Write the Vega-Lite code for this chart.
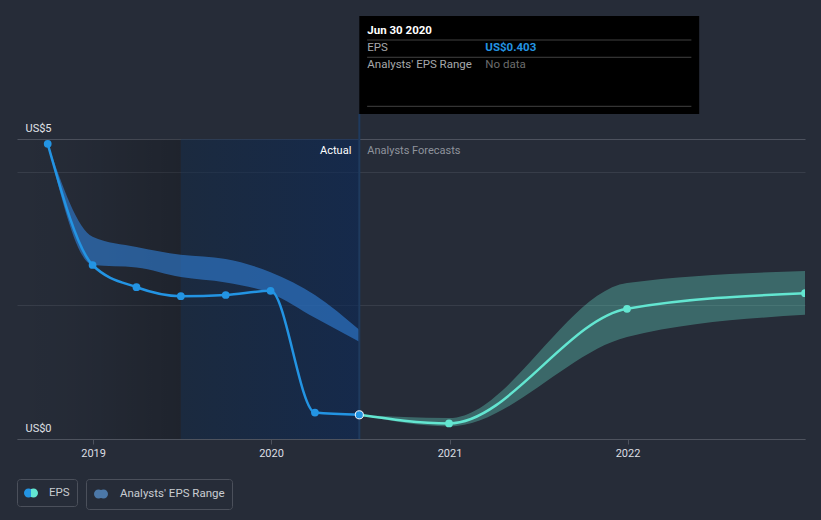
{
  "$schema": "https://vega.github.io/schema/vega-lite/v6.json",
  "width": 788,
  "height": 423,
  "autosize": {"type": "none"},
  "padding": {"left": 17, "top": 16, "right": 16, "bottom": 81},
  "background": "#262c38",
  "config": {"view": {"stroke": null}, "font": "Roboto"},
  "datasets": {
    "eps": [
      {"date": "2018-09-30", "eps": 4.92, "part": "actual"},
      {"date": "2018-12-31", "eps": 2.90, "part": "actual"},
      {"date": "2019-03-31", "eps": 2.53, "part": "actual"},
      {"date": "2019-06-30", "eps": 2.38, "part": "actual"},
      {"date": "2019-09-30", "eps": 2.40, "part": "actual"},
      {"date": "2019-12-31", "eps": 2.47, "part": "actual"},
      {"date": "2020-03-31", "eps": 0.44, "part": "actual"},
      {"date": "2020-06-30", "eps": 0.403, "part": "actual"},
      {"date": "2020-06-30", "eps": 0.403, "part": "forecast"},
      {"date": "2020-12-31", "eps": 0.26, "part": "forecast"},
      {"date": "2021-12-31", "eps": 2.17, "part": "forecast"},
      {"date": "2022-12-31", "eps": 2.43, "part": "forecast"}
    ],
    "range": [
      {"date": "2018-09-30", "low": 4.92, "high": 4.92, "part": "hist"},
      {"date": "2018-12-31", "low": 2.90, "high": 3.37, "part": "hist"},
      {"date": "2019-03-31", "low": 2.86, "high": 3.20, "part": "hist"},
      {"date": "2019-06-30", "low": 2.70, "high": 3.07, "part": "hist"},
      {"date": "2019-09-30", "low": 2.61, "high": 3.00, "part": "hist"},
      {"date": "2019-12-31", "low": 2.43, "high": 2.78, "part": "hist"},
      {"date": "2020-03-31", "low": 2.02, "high": 2.40, "part": "hist"},
      {"date": "2020-06-30", "low": 1.62, "high": 1.82, "part": "hist"},
      {"date": "2020-06-30", "low": 0.403, "high": 0.403, "part": "fc"},
      {"date": "2020-12-31", "low": 0.21, "high": 0.35, "part": "fc"},
      {"date": "2021-12-31", "low": 1.70, "high": 2.60, "part": "fc"},
      {"date": "2022-12-31", "low": 2.07, "high": 2.80, "part": "fc"}
    ]
  },
  "layer": [
    {
      "data": {"values": [{}]},
      "mark": {"type": "rect", "fill": {"gradient": "linear", "x1": 0, "y1": 0, "x2": 1, "y2": 0, "stops": [{"offset": 0, "color": "rgba(0,0,0,0)"}, {"offset": 0.35, "color": "rgba(0,0,0,0.04)"}, {"offset": 1, "color": "rgba(0,0,0,0.2)"}]}},
      "encoding": {
        "x": {"datum": {"year": 2018, "month": 7, "date": 29}, "type": "temporal", "title": null},
        "x2": {"datum": {"year": 2019, "month": 6, "date": 30}},
        "y": {"datum": 5, "type": "quantitative", "title": null},
        "y2": {"datum": 0}
      }
    },
    {
      "data": {"values": [{}]},
      "mark": {"type": "rect", "fill": {"gradient": "linear", "x1": 0, "y1": 0, "x2": 1, "y2": 0, "stops": [{"offset": 0, "color": "rgba(16,40,70,0.5)"}, {"offset": 1, "color": "rgba(10,40,88,0.6)"}]}},
      "encoding": {
        "x": {"datum": {"year": 2019, "month": 6, "date": 30}, "type": "temporal", "title": null},
        "x2": {"datum": {"year": 2020, "month": 6, "date": 30}},
        "y": {"datum": 5, "type": "quantitative", "title": null},
        "y2": {"datum": 0}
      }
    },
    {
      "data": {"name": "range"},
      "transform": [{"filter": "datum.part === 'hist'"}],
      "mark": {"type": "area", "interpolate": "monotone", "fill": "#3080d8", "fillOpacity": 0.6},
      "encoding": {
        "x": {
          "field": "date", "type": "temporal", "title": null,
          "scale": {"domain": [{"year": 2018, "month": 7, "date": 29}, {"year": 2022, "month": 12, "date": 31}]},
          "axis": {
            "orient": "bottom", "format": "%Y", "tickCount": {"interval": "year", "step": 1},
            "grid": false, "domainColor": "#4e535e", "tickColor": "#4e535e", "tickSize": 5,
            "labelColor": "#dcdfe3", "labelFontSize": 11, "labelPadding": 3, "labelFlush": false, "title": null
          }
        },
        "y": {
          "field": "high", "type": "quantitative", "title": null,
          "scale": {"domain": [0, 7.05], "nice": false, "zero": false},
          "axis": {
            "orient": "left", "values": [0, 2.23, 4.45, 5], "grid": true,
            "gridColor": {"condition": {"test": "datum.value === 5", "value": "#4d525e"}, "value": "#373d49"},
            "domain": false, "ticks": false, "tickSize": 0,
            "labelExpr": "datum.value === 5 ? 'US$5' : (datum.value === 0 ? 'US$0' : '')",
            "labelAlign": "left", "labelBaseline": "alphabetic", "labelPadding": -8, "labelOffset": -8,
            "labelColor": "#e0e3e8", "labelFontSize": 11, "labelFlush": false, "labelOverlap": false, "title": null
          }
        },
        "y2": {"field": "low"}
      }
    },
    {
      "data": {"name": "range"},
      "transform": [{"filter": "datum.part === 'fc'"}],
      "mark": {"type": "area", "interpolate": "monotone", "fill": "#6ae8d0", "fillOpacity": 0.32, "clip": true},
      "encoding": {
        "x": {"field": "date", "type": "temporal", "title": null},
        "y": {"field": "high", "type": "quantitative", "title": null},
        "y2": {"field": "low"}
      }
    },
    {
      "data": {"values": []},
      "mark": {"type": "point", "filled": true},
      "encoding": {
        "x": {"datum": {"year": 2020, "month": 6, "date": 30}, "type": "temporal", "title": null},
        "y": {"datum": 0, "type": "quantitative", "title": null},
        "shape": {
          "datum": "Analysts' EPS Range", "type": "nominal",
          "scale": {"domain": ["Analysts' EPS Range"], "range": ["M -1 0 A 0.643 0.643 0 1 0 0.286 0 A 0.643 0.643 0 1 0 -1 0 Z M -0.286 0 A 0.643 0.643 0 1 0 1 0 A 0.643 0.643 0 1 0 -0.286 0 Z"]},
          "legend": {
            "orient": "none", "legendX": 69, "legendY": 463, "title": null, "padding": 7,
            "strokeColor": "#4b505b", "cornerRadius": 3, "labelColor": "#c9ccd2", "labelFontSize": 11.5,
            "labelFont": "Roboto", "labelOffset": 11, "symbolSize": 196, "symbolOpacity": 1,
            "encode": {"symbols": {"update": {
              "fill": {"value": {"gradient": "linear", "x1": 0, "y1": 0, "x2": 1, "y2": 0, "stops": [{"offset": 0, "color": "#2c5e8f"}, {"offset": 0.5, "color": "#2c5e8f"}, {"offset": 0.5, "color": "#3e7b79"}, {"offset": 1, "color": "#3e7b79"}]}},
              "stroke": {"value": "transparent"},
              "strokeWidth": {"value": 0},
              "size": {"value": 196},
              "opacity": {"value": 1},
              "fillOpacity": {"value": 1}
            }}}
          }
        }
      }
    },
    {
      "data": {"values": [{}]},
      "mark": {"type": "rule", "stroke": "#1f3a5e", "strokeWidth": 2},
      "encoding": {
        "x": {"datum": {"year": 2020, "month": 6, "date": 30}, "type": "temporal", "title": null},
        "y": {"datum": 5.417, "type": "quantitative", "title": null},
        "y2": {"datum": 0}
      }
    },
    {
      "data": {"name": "eps"},
      "transform": [{"filter": "datum.part === 'actual'"}],
      "mark": {"type": "line", "interpolate": "monotone", "strokeWidth": 2.5},
      "encoding": {
        "x": {"field": "date", "type": "temporal", "title": null},
        "y": {"field": "eps", "type": "quantitative", "title": null},
        "stroke": {
          "datum": "EPS", "type": "nominal",
          "scale": {"domain": ["EPS"], "range": ["#2394e3"]},
          "legend": {
            "orient": "none", "legendX": 0, "legendY": 463, "title": null, "padding": 7,
            "strokeColor": "#4b505b", "cornerRadius": 3, "labelColor": "#c9ccd2", "labelFontSize": 11.5,
            "labelFont": "Roboto", "labelOffset": 11, "symbolSize": 196, "symbolOpacity": 1,
            "symbolType": "M -1 0 A 0.643 0.643 0 1 0 0.286 0 A 0.643 0.643 0 1 0 -1 0 Z M -0.286 0 A 0.643 0.643 0 1 0 1 0 A 0.643 0.643 0 1 0 -0.286 0 Z",
            "encode": {"symbols": {"update": {
              "fill": {"value": {"gradient": "linear", "x1": 0, "y1": 0, "x2": 1, "y2": 0, "stops": [{"offset": 0, "color": "#2394e3"}, {"offset": 0.5, "color": "#2394e3"}, {"offset": 0.5, "color": "#63e6d1"}, {"offset": 1, "color": "#63e6d1"}]}},
              "stroke": {"value": "transparent"},
              "strokeWidth": {"value": 0},
              "opacity": {"value": 1},
              "fillOpacity": {"value": 1}
            }}}
          }
        }
      }
    },
    {
      "data": {"name": "eps"},
      "transform": [{"filter": "datum.part === 'forecast'"}],
      "mark": {"type": "line", "interpolate": "monotone", "strokeWidth": 2.5, "stroke": "#63e6d1", "clip": true},
      "encoding": {
        "x": {"field": "date", "type": "temporal", "title": null},
        "y": {"field": "eps", "type": "quantitative", "title": null}
      }
    },
    {
      "data": {"name": "eps"},
      "transform": [{"filter": "datum.part === 'actual' && !(utcyear(datum.date) === 2020 && utcmonth(datum.date) === 5)"}],
      "mark": {"type": "circle", "fill": "#2394e3", "size": 60, "opacity": 1},
      "encoding": {
        "x": {"field": "date", "type": "temporal", "title": null},
        "y": {"field": "eps", "type": "quantitative", "title": null}
      }
    },
    {
      "data": {"name": "eps"},
      "transform": [{"filter": "datum.part === 'forecast' && !(utcyear(datum.date) === 2020 && utcmonth(datum.date) === 5)"}],
      "mark": {"type": "circle", "fill": "#63e6d1", "size": 60, "opacity": 1, "clip": true},
      "encoding": {
        "x": {"field": "date", "type": "temporal", "title": null},
        "y": {"field": "eps", "type": "quantitative", "title": null}
      }
    },
    {
      "data": {"name": "eps"},
      "transform": [{"filter": "datum.part === 'actual' && utcyear(datum.date) === 2020 && utcmonth(datum.date) === 5"}],
      "mark": {"type": "circle", "fill": "#2394e3", "stroke": "#ffffff", "strokeWidth": 1, "size": 65, "opacity": 1},
      "encoding": {
        "x": {"field": "date", "type": "temporal", "title": null},
        "y": {"field": "eps", "type": "quantitative", "title": null}
      }
    },
    {
      "data": {"values": [{}]},
      "mark": {"type": "text", "text": "Actual", "align": "right", "baseline": "middle", "dx": -8, "fontSize": 11, "color": "#ffffff"},
      "encoding": {
        "x": {"datum": {"year": 2020, "month": 6, "date": 30}, "type": "temporal", "title": null},
        "y": {"datum": 4.8, "type": "quantitative", "title": null}
      }
    },
    {
      "data": {"values": [{}]},
      "mark": {"type": "text", "text": "Analysts Forecasts", "align": "left", "baseline": "middle", "dx": 8, "fontSize": 11, "color": "#8e939c"},
      "encoding": {
        "x": {"datum": {"year": 2020, "month": 6, "date": 30}, "type": "temporal", "title": null},
        "y": {"datum": 4.8, "type": "quantitative", "title": null}
      }
    },
    {
      "data": {"values": [{}]},
      "mark": {"type": "rect", "fill": "#000000"},
      "encoding": {
        "x": {"datum": {"year": 2020, "month": 6, "date": 30}, "type": "temporal", "title": null},
        "x2": {"datum": {"year": 2022, "month": 5, "date": 28}},
        "y": {"datum": 7.05, "type": "quantitative", "title": null},
        "y2": {"datum": 5.417}
      }
    },
    {
      "data": {"values": [{"v": 6.65}, {"v": 6.362}, {"v": 5.545}]},
      "mark": {"type": "rule", "stroke": "#414141", "strokeWidth": 1},
      "encoding": {
        "x": {"datum": {"year": 2020, "month": 7, "date": 16}, "type": "temporal", "title": null},
        "x2": {"datum": {"year": 2022, "month": 5, "date": 12}},
        "y": {"field": "v", "type": "quantitative", "title": null}
      }
    },
    {
      "data": {"values": [{}]},
      "mark": {"type": "text", "text": "Jun 30 2020", "align": "left", "baseline": "middle", "dx": 8, "fontSize": 11.5, "fontWeight": "bold", "color": "#ffffff"},
      "encoding": {
        "x": {"datum": {"year": 2020, "month": 6, "date": 30}, "type": "temporal", "title": null},
        "y": {"datum": 6.8, "type": "quantitative", "title": null}
      }
    },
    {
      "data": {"values": [{}]},
      "mark": {"type": "text", "text": "EPS", "align": "left", "baseline": "middle", "dx": 8, "fontSize": 11.5, "color": "#a6a8ab"},
      "encoding": {
        "x": {"datum": {"year": 2020, "month": 6, "date": 30}, "type": "temporal", "title": null},
        "y": {"datum": 6.512, "type": "quantitative", "title": null}
      }
    },
    {
      "data": {"values": [{}]},
      "mark": {"type": "text", "text": "US$0.403", "align": "left", "baseline": "middle", "dx": 126, "fontSize": 11.5, "fontWeight": "bold", "color": "#2394e3"},
      "encoding": {
        "x": {"datum": {"year": 2020, "month": 6, "date": 30}, "type": "temporal", "title": null},
        "y": {"datum": 6.512, "type": "quantitative", "title": null}
      }
    },
    {
      "data": {"values": [{}]},
      "mark": {"type": "text", "text": "Analysts' EPS Range", "align": "left", "baseline": "middle", "dx": 8, "fontSize": 11.5, "color": "#a6a8ab"},
      "encoding": {
        "x": {"datum": {"year": 2020, "month": 6, "date": 30}, "type": "temporal", "title": null},
        "y": {"datum": 6.233, "type": "quantitative", "title": null}
      }
    },
    {
      "data": {"values": [{}]},
      "mark": {"type": "text", "text": "No data", "align": "left", "baseline": "middle", "dx": 126, "fontSize": 11.5, "color": "#6c6c6c"},
      "encoding": {
        "x": {"datum": {"year": 2020, "month": 6, "date": 30}, "type": "temporal", "title": null},
        "y": {"datum": 6.233, "type": "quantitative", "title": null}
      }
    }
  ]
}
